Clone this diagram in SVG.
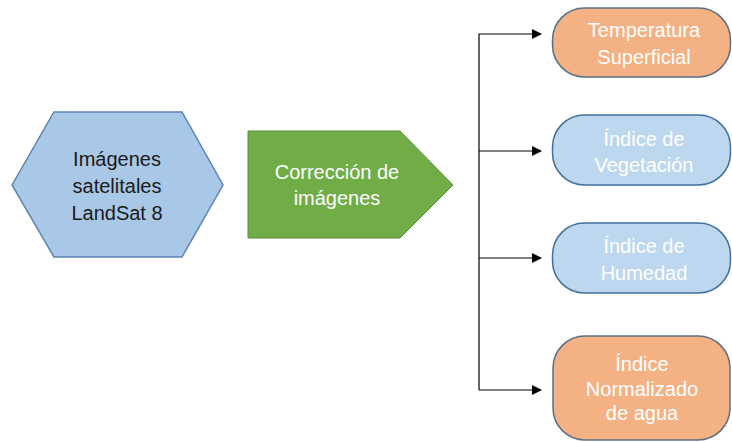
<svg xmlns="http://www.w3.org/2000/svg" width="732" height="442" viewBox="0 0 732 442">
<defs>
<style>
text{font-family:"Liberation Sans",Arial,sans-serif;font-size:20px;text-anchor:middle}
.dark{fill:#1a1a1a}
.light{fill:#ffffff}
.blue{fill:#bdd7ee;stroke:#41719c;stroke-width:1.5}
.orange{fill:#f4b183;stroke:#5a6f86;stroke-width:1.5}
.conn{fill:none;stroke:#000;stroke-width:1.2}
</style>
<marker id="arr" markerWidth="10" markerHeight="10" refX="9" refY="5" orient="auto" markerUnits="userSpaceOnUse">
<path d="M0,0 L10,5 L0,10 Z" fill="#000"/>
</marker>
</defs>
<rect width="732" height="442" fill="#ffffff"/>
<g id="hexagon">
<polygon points="12,185 54,112 182,112 223,185 182,257 54,257" fill="#a9c8e8" stroke="#5b84b1" stroke-width="1.5"/>
<text class="dark" x="117" y="166">Imágenes</text>
<text class="dark" x="117" y="193">satelitales</text>
<text class="dark" x="117" y="220">LandSat 8</text>
</g>
<g id="correccion">
<polygon points="248,131 400,131 453,185 400,238 248,238" fill="#70ad47" stroke="#5a8f3a" stroke-width="1"/>
<text class="light" x="337" y="179">Corrección de</text>
<text class="light" x="337" y="205">imágenes</text>
</g>
<g id="connectors">
<path class="conn" d="M479,390 V34 H541" marker-end="url(#arr)"/>
<path class="conn" d="M479,151 H541" marker-end="url(#arr)"/>
<path class="conn" d="M479,258 H541" marker-end="url(#arr)"/>
<path class="conn" d="M479,390 H541" marker-end="url(#arr)"/>
</g>
<g id="temperatura">
<rect class="orange" x="552.5" y="8" width="178" height="69" rx="32" ry="32"/>
<text class="light" x="644" y="37">Temperatura</text>
<text class="light" x="644" y="64">Superficial</text>
</g>
<g id="vegetacion">
<rect class="blue" x="552.5" y="115" width="178" height="70" rx="32" ry="32"/>
<text class="light" x="644" y="146">Índice de</text>
<text class="light" x="644" y="172">Vegetación</text>
</g>
<g id="humedad">
<rect class="blue" x="552.5" y="223" width="178" height="70" rx="32" ry="32"/>
<text class="light" x="644" y="253">Índice de</text>
<text class="light" x="644" y="280">Humedad</text>
</g>
<g id="agua">
<rect class="orange" x="553" y="336" width="177" height="104" rx="32" ry="32"/>
<text class="light" x="642" y="371">Índice</text>
<text class="light" x="642" y="396">Normalizado</text>
<text class="light" x="642" y="420">de agua</text>
</g>
</svg>
